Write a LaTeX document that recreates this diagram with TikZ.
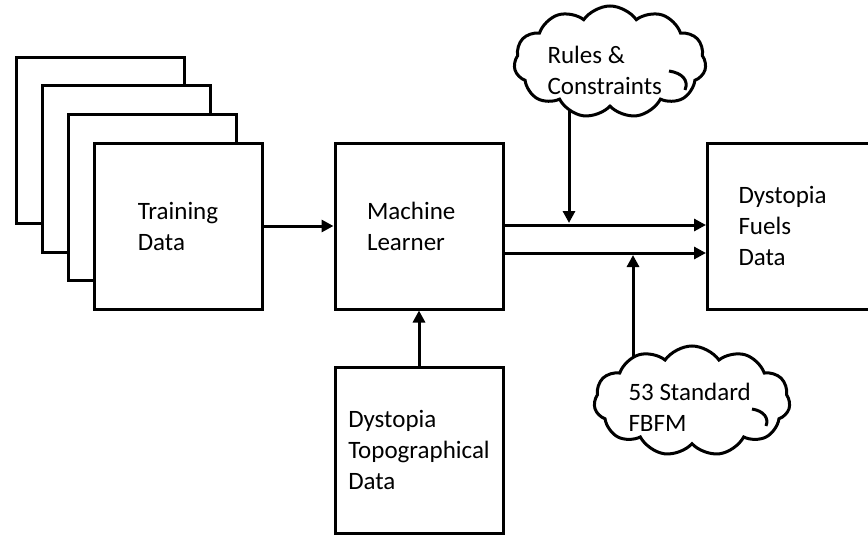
\documentclass[tikz,border=0pt]{standalone}
\usepackage{fontspec}
\setmainfont{Carlito}
\usetikzlibrary{arrows.meta,shapes.symbols,positioning,calc}

\begin{document}
\begin{tikzpicture}[x=1pt,y=-1pt,
    line width=3pt,
    font=\fontsize{25}{31}\selectfont,
    box/.style={draw,fill=white,minimum width=168pt,minimum height=166pt,inner sep=0pt,align=left},
    puff/.style={cloud,draw,fill=white,cloud puffs=11,cloud puff arc=110,cloud ignores aspect,inner sep=0pt},
    arr/.style={-{Triangle[length=12pt,width=12pt]}}]
        \useasboundingbox (0,0) rectangle (868,535);
        \clip (0,0) rectangle (868,535);

        % stack of training sets, back to front
        \foreach \k in {3,2,1}
          \node[box] (page\k) at ({178-26*\k},{226-28.5*\k}) {};
        \node[box] (training) at (178,226) {Training\\Data};

        \node[box,text width=104pt] (learner) at (419,226) {Machine\\Learner};
        \node[box] (topo) at (419,450) {Dystopia\\Topographical\\Data};
        \node[box,text width=106pt,anchor=west] (fuels) at (706,226) {Dystopia\\Fuels\\Data};

        \draw[arr] (training) -- (learner);
        \draw[arr] (topo) -- (learner);
        \draw[arr] ([yshift=1pt]learner.east) -- ([yshift=1pt]learner.east -| fuels.west);
        \draw[arr] ([yshift=-27pt]learner.east) -- ([yshift=-27pt]learner.east -| fuels.west);

        % the clouds sit on top of the feeding arrows
        \coordinate (rulesc) at (610,62);
        \coordinate (fbfmc) at (692,401);
        \coordinate (tipA) at (569,223);
        \coordinate (tipB) at (633,255);
        \draw[arr] (tipA |- rulesc) -- (tipA);
        \draw[arr] (tipB |- fbfmc) -- (tipB);
        \node[puff,minimum width=192pt,minimum height=112pt] (rules) at (rulesc) {};
        \node[puff,minimum width=196pt,minimum height=110pt,shape border rotate=14] (fbfm) at (fbfmc) {};
        \draw (669,71) .. controls (682,73) and (689,80) .. (685,90);
        \draw (752,409) .. controls (764,411) and (769,418) .. (766,426);

        \node[anchor=north west,inner sep=0pt,align=left] (rulestxt) at (546,45) {Rules \&\\Constraints};
        \node[anchor=north west,inner sep=0pt,align=left] (fbfmtxt) at (627,382) {53 Standard\\FBFM};
      \end{tikzpicture}
\end{document}
